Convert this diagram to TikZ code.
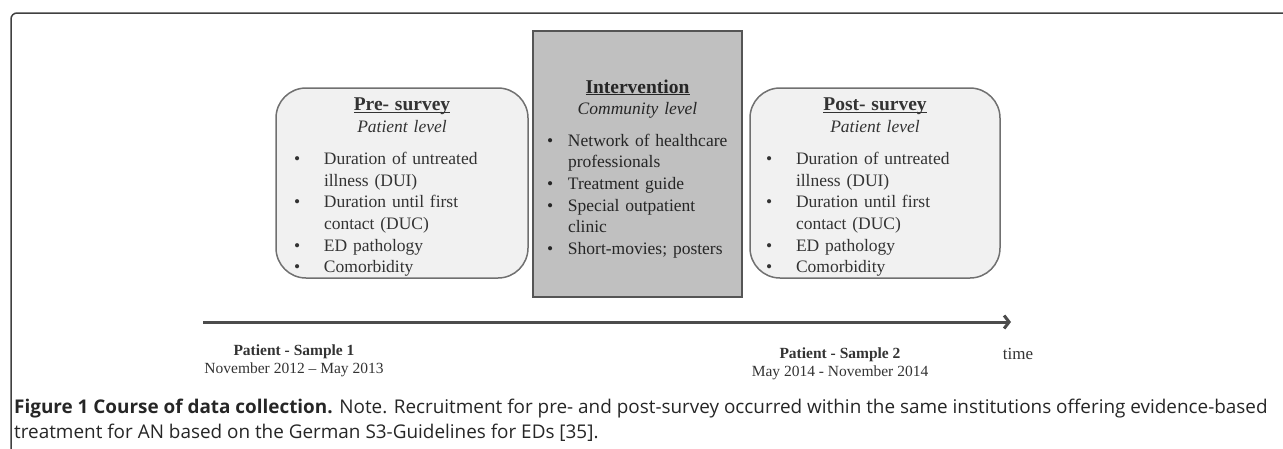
\documentclass[tikz,border=0pt]{standalone}
\usepackage{fontspec}
\setmainfont{Liberation Serif}
\newfontfamily\capfont{Open Sans}
\usetikzlibrary{positioning,arrows.meta}

\definecolor{surveyfill}{HTML}{F1F1F1}
\definecolor{surveyline}{HTML}{707070}
\definecolor{interfill}{HTML}{C0C0C0}
\definecolor{interline}{HTML}{555555}
\definecolor{inktext}{HTML}{333333}

% one bullet line: bullet offset, text offset, text
\newcommand{\bitem}[3]{\par\noindent\hangindent=#2\hangafter=1\makebox[#2][l]{\hspace{#1}\textbullet}#3}
% underlined box title
\newcommand{\boxtitle}[1]{{\fontsize{19.5}{21.6}\selectfont\underline{\smash{\textbf{#1}}}}}

\begin{document}
\begin{tikzpicture}[x=1pt,y=-1pt,
    survey/.style={draw=surveyline, fill=surveyfill, line width=1.5pt, rounded corners=30pt,
        minimum width=252pt, minimum height=190pt, inner sep=0pt},
    inter/.style={draw=interline, fill=interfill, line width=1.5pt,
        minimum width=209pt, minimum height=266pt, inner sep=0pt},
    boxtext/.style={text width=252pt, inner sep=0pt, align=left,
        text=inktext, font=\fontsize{17.5}{21.6}\selectfont},
    sample/.style={align=center, text=inktext, font=\fontsize{15.5}{18}\selectfont},
    timeline/.style={draw=black!70, line width=3pt, -{Straight Barb[length=5pt,width=13pt]}}]
	\useasboundingbox (0,0) rectangle (1283,448);

	% outer frame
	\draw[black!75, line width=1.5pt, rounded corners=6pt] (11,449) -- (11,13) -- (1284,13);

	\node[survey] (pre) at (402,183) {};
	\node[inter] (int) at (637.5,164) {};
	\node[survey, minimum width=250pt] (post) at (875,183) {};

	\node[boxtext] (pretext) at (402,193.5)
    {{\centering\boxtitle{Pre- survey}\\ \textit{Patient level}\par}
    \vspace{11pt}
    \bitem{18pt}{48pt}{Duration of untreated\newline illness (DUI)}
    \bitem{18pt}{48pt}{Duration until first\newline contact (DUC)}
    \bitem{18pt}{48pt}{ED pathology}
    \bitem{18pt}{48pt}{Comorbidity}};

	\node[boxtext, text width=209pt, text=black!85] (inttext) at (637.5,175.5)
    {{\centering\boxtitle{Intervention}\\ \textit{Community level}\par}
    \vspace{10pt}
    \bitem{14pt}{35pt}{Network of healthcare\newline professionals}
    \bitem{14pt}{35pt}{Treatment guide}
    \bitem{14pt}{35pt}{Special outpatient\newline clinic}
    \bitem{14pt}{35pt}{Short-movies; posters}};

	\node[boxtext, text width=250pt] (posttext) at (875,193.5)
    {{\centering\boxtitle{Post- survey}\\ \textit{Patient level}\par}
    \vspace{11pt}
    \bitem{16pt}{46pt}{Duration of untreated\newline illness (DUI)}
    \bitem{16pt}{46pt}{Duration until first\newline contact (DUC)}
    \bitem{16pt}{46pt}{ED pathology}
    \bitem{16pt}{46pt}{Comorbidity}};

	\coordinate (tstart) at (203,322);
	\coordinate (tend) at (1011,322);
	\draw[timeline] (tstart) -- (tend);

	\node[sample] (s1) at (294,361) {\textbf{Patient - Sample 1}\\November 2012 -- May 2013};
	\node[sample] (s2) at (840,364) {\textbf{Patient - Sample 2}\\May 2014 - November 2014};
	\node[sample, font=\fontsize{17}{20}\selectfont] (time) at (1018,354) {time};

	\node[anchor=base west, align=left, inner sep=0pt, text=black!85,
      font=\capfont\fontsize{18.9}{25}\selectfont] (cap) at (14,438)
    {\textbf{Figure 1 Course of data collection.} Note. Recruitment for pre- and post-survey occurred within the same institutions offering evidence-based\\
    treatment for AN based on the German S3-Guidelines for EDs [35].};
\end{tikzpicture}
\end{document}
